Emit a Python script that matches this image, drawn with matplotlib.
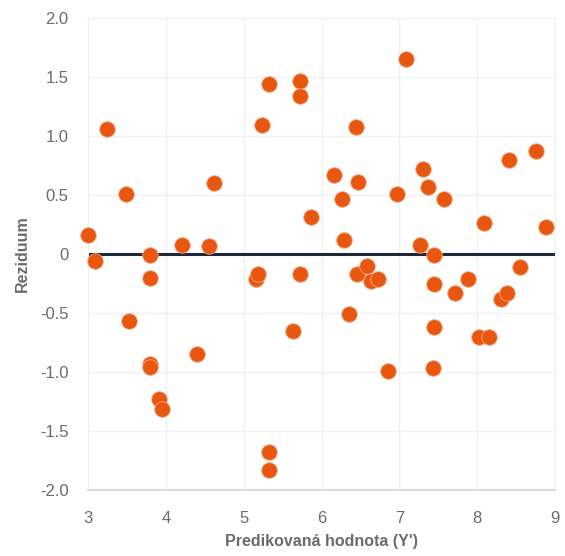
import matplotlib
matplotlib.use('Agg')
import matplotlib.pyplot as plt
import numpy as np

# predicted values (Y') and residuals
predicted = [3.00, 3.09, 3.24, 3.49, 3.53, 3.80, 3.80, 3.80, 3.80, 3.91,
             3.95, 4.21, 4.40, 4.55, 4.62, 5.16, 5.19, 5.24, 5.33, 5.32,
             5.33, 5.64, 5.72, 5.73, 5.72, 5.86, 6.16, 6.26, 6.29, 6.35,
             6.44, 6.47, 6.45, 6.58, 6.64, 6.73, 6.85, 6.97, 7.09, 7.27,
             7.30, 7.37, 7.44, 7.44, 7.43, 7.45, 7.58, 7.72, 7.88, 8.02,
             8.15, 8.09, 8.30, 8.38, 8.41, 8.55, 8.76, 8.88]
residuals = [0.16, -0.06, 1.06, 0.51, -0.57, -0.01, -0.20, -0.93, -0.96, -1.23,
             -1.31, 0.08, -0.85, 0.07, 0.60, -0.21, -0.17, 1.09, 1.44, -1.68,
             -1.83, -0.65, 1.47, 1.34, -0.17, 0.31, 0.67, 0.47, 0.12, -0.51,
             1.08, 0.61, -0.17, -0.10, -0.23, -0.21, -0.99, 0.51, 1.65, 0.08,
             0.72, 0.57, -0.01, -0.62, -0.97, -0.25, 0.47, -0.33, -0.21, -0.70,
             -0.70, 0.26, -0.38, -0.33, 0.80, -0.11, 0.87, 0.23]

x_ticks = [3, 4, 5, 6, 7, 8, 9]
y_ticks = [-2.0, -1.5, -1.0, -0.5, 0, 0.5, 1.0, 1.5, 2.0]
y_tick_labels = ['-2.0', '-1.5', '-1.0', '-0.5', '0', '0.5', '1.0', '1.5', '2.0']

plt.rcParams['font.family'] = ['Liberation Sans', 'DejaVu Sans']

fig = plt.figure(figsize=(5.65, 5.56), dpi=100)
ax = fig.add_axes([88 / 565, 66 / 556, 467 / 565, 472 / 556])

ax.set_xlim(3, 9)
ax.set_ylim(-2, 2)
ax.set_xticks(x_ticks)
ax.set_yticks(y_ticks)
ax.set_yticklabels(y_tick_labels)
ax.grid(True, color='#edf0f4', linewidth=1.0)
ax.set_axisbelow(True)
for side in ['top', 'right', 'left']:
    ax.spines[side].set_color('#edf0f4')
ax.spines['bottom'].set_color('#d9dde3')
ax.spines['bottom'].set_linewidth(1.5)
ax.tick_params(length=0, labelsize=12, colors='#6b6b6b')
ax.tick_params(axis='x', pad=15)
ax.tick_params(axis='y', pad=14)

ax.axhline(0, color='#1e2838', linewidth=2.2, zorder=2)
ax.scatter(predicted, residuals, s=125, color='#e8570f',
           edgecolors='#f3a27a', linewidths=0.6, zorder=3, clip_on=False)

ax.set_xlabel("Predikovaná hodnota (Y')", fontsize=11.5, fontweight='bold',
              color='#6b6b6b', labelpad=6)
ax.set_ylabel('Reziduum', fontsize=11.5, fontweight='bold',
              color='#6b6b6b', labelpad=7)

fig.savefig('out.png', dpi=100)
